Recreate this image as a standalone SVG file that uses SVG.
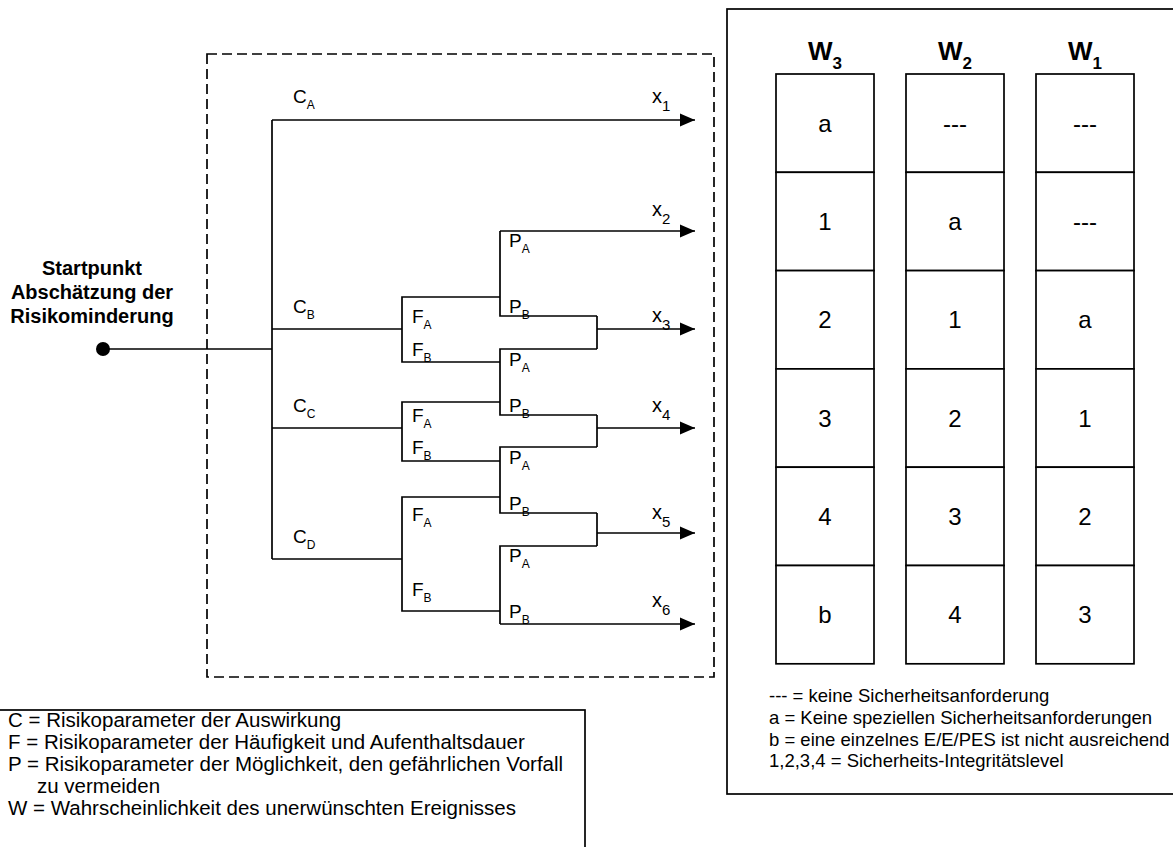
<svg xmlns="http://www.w3.org/2000/svg" width="1173" height="847" viewBox="0 0 1173 847">
<style>
text{font-family:"Liberation Sans",Arial,sans-serif;fill:#000}
.ln{stroke:#000;stroke-width:1.7;fill:none}
.box{stroke:#000;stroke-width:1.7;fill:#fff}
.dash{stroke:#000;stroke-width:1.7;fill:none;stroke-dasharray:10 5}
.lbl{font-size:19px}
.sub{font-size:12px}
.xl{font-size:20px}
.xs{font-size:15px}
.cell{font-size:24px;text-anchor:middle}
.hd{font-size:26px;font-weight:bold;text-anchor:middle}
.hs{font-size:17px}
.leg{font-size:20.5px}
.leg2{font-size:18.5px}
.start{font-size:20px;font-weight:bold;text-anchor:middle}
</style>
<defs>
<marker id="arr" markerUnits="userSpaceOnUse" markerWidth="16" markerHeight="14" refX="15" refY="7" orient="auto">
<path d="M0,0.5 L15,7 L0,13.5 z" fill="#000"/>
</marker>
</defs>
<rect width="1173" height="847" fill="#fff"/>

<g id="tree-frame">
<rect class="dash" x="207" y="54" width="507" height="623"/>
</g>

<g id="start">
<circle cx="103" cy="349" r="7" fill="#000"/>
<text class="start" x="92" y="275">Startpunkt</text>
<text class="start" x="92" y="299">Abschätzung der</text>
<text class="start" x="92" y="323">Risikominderung</text>
</g>

<g id="connectors">
<path class="ln" d="M103,349 H272"/>
<path class="ln" d="M272,120 V559"/>
<path class="ln" d="M272,120 H695" marker-end="url(#arr)"/>
<path class="ln" d="M272,329 H402"/>
<path class="ln" d="M272,428 H402"/>
<path class="ln" d="M272,559 H402"/>
<path class="ln" d="M500,297 H402 V362 H500"/>
<path class="ln" d="M500,402 H402 V461 H500"/>
<path class="ln" d="M500,497 H402 V611 H500"/>
<path class="ln" d="M500,231 V316 H597"/>
<path class="ln" d="M500,231 H695" marker-end="url(#arr)"/>
<path class="ln" d="M597,349 H500 V415 H597"/>
<path class="ln" d="M597,447 H500 V513 H597"/>
<path class="ln" d="M597,546 H500 V624"/>
<path class="ln" d="M500,624 H695" marker-end="url(#arr)"/>
<path class="ln" d="M597,316 V349"/>
<path class="ln" d="M597,415 V447"/>
<path class="ln" d="M597,513 V546"/>
<path class="ln" d="M597,329 H695" marker-end="url(#arr)"/>
<path class="ln" d="M597,428 H695" marker-end="url(#arr)"/>
<path class="ln" d="M597,533 H695" marker-end="url(#arr)"/>
</g>

<g id="labels-C">
<text class="lbl" x="293" y="103">C<tspan class="sub" dy="6">A</tspan></text>
<text class="lbl" x="293" y="313">C<tspan class="sub" dy="6">B</tspan></text>
<text class="lbl" x="293" y="412">C<tspan class="sub" dy="6">C</tspan></text>
<text class="lbl" x="293" y="543">C<tspan class="sub" dy="6">D</tspan></text>
</g>
<g id="labels-F">
<text class="lbl" x="412" y="323">F<tspan class="sub" dy="6">A</tspan></text>
<text class="lbl" x="412" y="356">F<tspan class="sub" dy="6">B</tspan></text>
<text class="lbl" x="412" y="422">F<tspan class="sub" dy="6">A</tspan></text>
<text class="lbl" x="412" y="454">F<tspan class="sub" dy="6">B</tspan></text>
<text class="lbl" x="412" y="521">F<tspan class="sub" dy="6">A</tspan></text>
<text class="lbl" x="412" y="596">F<tspan class="sub" dy="6">B</tspan></text>
</g>
<g id="labels-P">
<text class="lbl" x="509" y="247">P<tspan class="sub" dy="6">A</tspan></text>
<text class="lbl" x="509" y="313">P<tspan class="sub" dy="6">B</tspan></text>
<text class="lbl" x="509" y="366">P<tspan class="sub" dy="6">A</tspan></text>
<text class="lbl" x="509" y="412">P<tspan class="sub" dy="6">B</tspan></text>
<text class="lbl" x="509" y="464">P<tspan class="sub" dy="6">A</tspan></text>
<text class="lbl" x="509" y="510">P<tspan class="sub" dy="6">B</tspan></text>
<text class="lbl" x="509" y="562">P<tspan class="sub" dy="6">A</tspan></text>
<text class="lbl" x="509" y="618">P<tspan class="sub" dy="6">B</tspan></text>
</g>
<g id="labels-x">
<text class="xl" x="652" y="103">x<tspan class="xs" dy="8">1</tspan></text>
<text class="xl" x="652" y="216">x<tspan class="xs" dy="8">2</tspan></text>
<text class="xl" x="652" y="322">x<tspan class="xs" dy="8">3</tspan></text>
<text class="xl" x="652" y="412">x<tspan class="xs" dy="8">4</tspan></text>
<text class="xl" x="652" y="519">x<tspan class="xs" dy="8">5</tspan></text>
<text class="xl" x="652" y="607">x<tspan class="xs" dy="8">6</tspan></text>
</g>

<g id="w-table">
<rect class="box" x="727" y="9" width="460" height="785"/>
<g id="col-W3">
<text class="hd" x="825" y="60">W<tspan class="hs" dy="9">3</tspan></text>
<rect class="box" x="776" y="74" width="98" height="98.3"/>
<rect class="box" x="776" y="172.3" width="98" height="98.3"/>
<rect class="box" x="776" y="270.6" width="98" height="98.3"/>
<rect class="box" x="776" y="368.9" width="98" height="98.3"/>
<rect class="box" x="776" y="467.2" width="98" height="98.3"/>
<rect class="box" x="776" y="565.5" width="98" height="98.3"/>
<text class="cell" x="825" y="131.7">a</text>
<text class="cell" x="825" y="230">1</text>
<text class="cell" x="825" y="328.3">2</text>
<text class="cell" x="825" y="426.6">3</text>
<text class="cell" x="825" y="524.9">4</text>
<text class="cell" x="825" y="623.2">b</text>
</g>
<g id="col-W2">
<text class="hd" x="955" y="60">W<tspan class="hs" dy="9">2</tspan></text>
<rect class="box" x="906" y="74" width="98" height="98.3"/>
<rect class="box" x="906" y="172.3" width="98" height="98.3"/>
<rect class="box" x="906" y="270.6" width="98" height="98.3"/>
<rect class="box" x="906" y="368.9" width="98" height="98.3"/>
<rect class="box" x="906" y="467.2" width="98" height="98.3"/>
<rect class="box" x="906" y="565.5" width="98" height="98.3"/>
<text class="cell" x="955" y="131.7">---</text>
<text class="cell" x="955" y="230">a</text>
<text class="cell" x="955" y="328.3">1</text>
<text class="cell" x="955" y="426.6">2</text>
<text class="cell" x="955" y="524.9">3</text>
<text class="cell" x="955" y="623.2">4</text>
</g>
<g id="col-W1">
<text class="hd" x="1085" y="60">W<tspan class="hs" dy="9">1</tspan></text>
<rect class="box" x="1036" y="74" width="98" height="98.3"/>
<rect class="box" x="1036" y="172.3" width="98" height="98.3"/>
<rect class="box" x="1036" y="270.6" width="98" height="98.3"/>
<rect class="box" x="1036" y="368.9" width="98" height="98.3"/>
<rect class="box" x="1036" y="467.2" width="98" height="98.3"/>
<rect class="box" x="1036" y="565.5" width="98" height="98.3"/>
<text class="cell" x="1085" y="131.7">---</text>
<text class="cell" x="1085" y="230">---</text>
<text class="cell" x="1085" y="328.3">a</text>
<text class="cell" x="1085" y="426.6">1</text>
<text class="cell" x="1085" y="524.9">2</text>
<text class="cell" x="1085" y="623.2">3</text>
</g>
<g id="w-legend">
<text class="leg2" x="769" y="702">--- = keine Sicherheitsanforderung</text>
<text class="leg2" x="769" y="724">a = Keine speziellen Sicherheitsanforderungen</text>
<text class="leg2" x="769" y="745.5">b = eine einzelnes E/E/PES ist nicht ausreichend</text>
<text class="leg2" x="769" y="767">1,2,3,4 = Sicherheits-Integritätslevel</text>
</g>
</g>

<g id="legend">
<rect class="box" x="-2" y="710" width="587" height="150"/>
<text class="leg" x="8" y="727">C = Risikoparameter der Auswirkung</text>
<text class="leg" x="8" y="749">F = Risikoparameter der Häufigkeit und Aufenthaltsdauer</text>
<text class="leg" x="8" y="771">P = Risikoparameter der Möglichkeit, den gefährlichen Vorfall</text>
<text class="leg" x="37" y="793">zu vermeiden</text>
<text class="leg" x="8" y="815">W = Wahrscheinlichkeit des unerwünschten Ereignisses</text>
</g>
</svg>
